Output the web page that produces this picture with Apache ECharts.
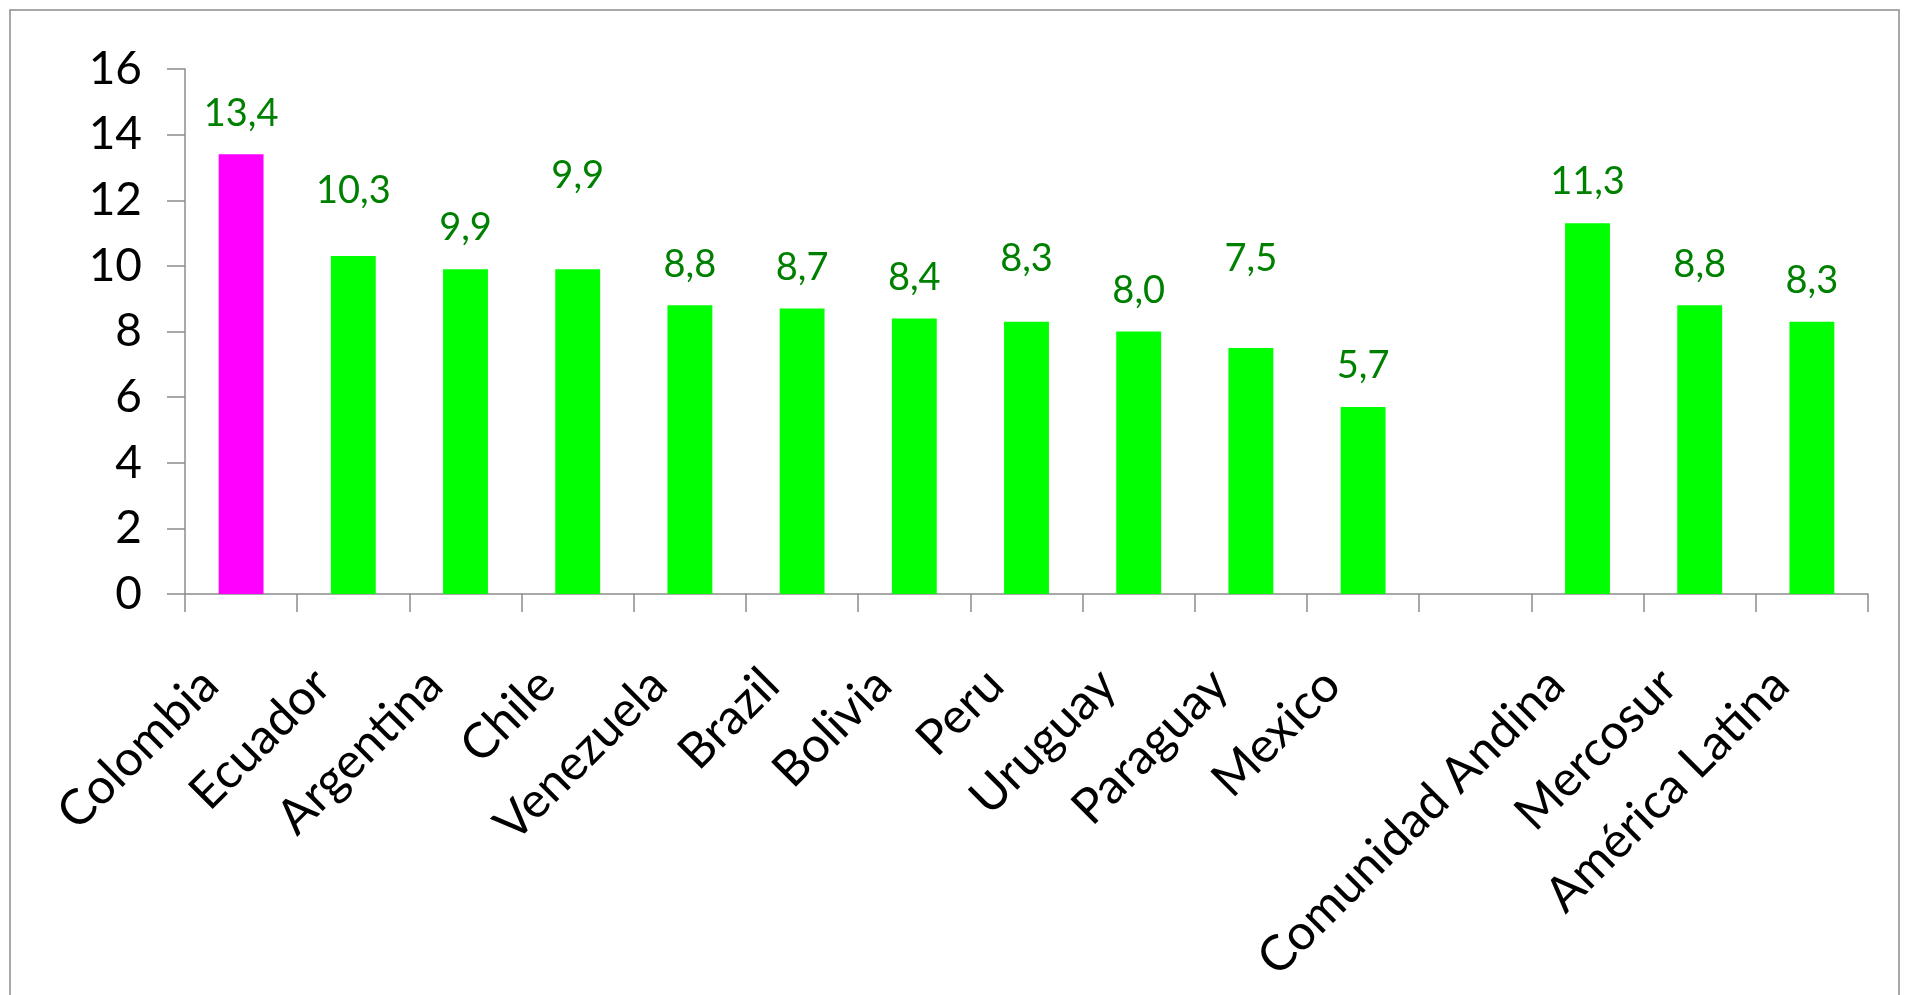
<!DOCTYPE html>
<html>
<head>
<meta charset="utf-8">
<script src="https://cdn.jsdelivr.net/npm/echarts@6/dist/echarts.min.js"></script>
<style>
html,body{margin:0;padding:0;background:#fff;}
#chart{width:1906px;height:995px;}
</style>
</head>
<body>
<div id="chart"></div>
<script>
// Data
var categories = ['Colombia','Ecuador','Argentina','Chile','Venezuela','Brazil','Bolivia','Peru','Uruguay','Paraguay','Mexico','','Comunidad Andina','Mercosur','América Latina'];
var values = [13.4, 10.3, 9.9, 9.9, 8.8, 8.7, 8.4, 8.3, 8.0, 7.5, 5.7, null, 11.3, 8.8, 8.3];
var highlight = ['Colombia'];
var yTicks = [0, 2, 4, 6, 8, 10, 12, 14, 16];

// Styling (label placement, as in the original)
var labelDistBase = 22;
var labelExtra = [0, 24, 0, 52, 0, 0, 0, 22, 0, 48, 0, 0, 0, 0, 0];

var seriesData = values.map(function (v, i) {
  if (v === null) return '-';
  return {
    value: v,
    itemStyle: { color: highlight.indexOf(categories[i]) >= 0 ? '#FF00FF' : '#00FF00' },
    label: { distance: labelDistBase + labelExtra[i] }
  };
});

var chart = echarts.init(document.getElementById('chart'));
chart.setOption({
  animation: false,
  backgroundColor: '#fff',
  textStyle: { fontFamily: 'Lato' },
  graphic: [{
    type: 'rect',
    shape: { x: 10, y: 10, width: 1889, height: 1000 },
    style: { fill: 'none', stroke: '#8c8c8c', lineWidth: 1.5 },
    silent: true
  }],
  grid: { left: 185, right: 38, top: 69, bottom: 401, containLabel: false },
  xAxis: {
    type: 'category',
    data: categories,
    axisLine: { lineStyle: { color: '#8c8c8c', width: 1.5 } },
    axisTick: { show: true, length: 18, lineStyle: { color: '#8c8c8c', width: 1.5 } },
    axisLabel: {
      rotate: 45,
      interval: 0,
      margin: 52,
      padding: [0, 44, 0, 0],
      color: '#000',
      fontFamily: 'Lato',
      fontSize: 49
    }
  },
  yAxis: {
    type: 'value',
    min: yTicks[0],
    max: yTicks[yTicks.length - 1],
    interval: 2,
    splitLine: { show: false },
    axisLine: { show: true, lineStyle: { color: '#8c8c8c', width: 1.5 } },
    axisTick: { show: true, length: 18, lineStyle: { color: '#8c8c8c', width: 1.5 } },
    axisLabel: {
      margin: 43,
      color: '#000',
      fontFamily: 'Lato',
      fontSize: 46,
      formatter: function (v) { return yTicks.indexOf(v) >= 0 ? String(v) : ''; }
    }
  },
  series: [{
    type: 'bar',
    data: seriesData,
    barWidth: '40%',
    label: {
      show: true,
      position: 'top',
      color: '#008000',
      fontFamily: 'Lato',
      fontSize: 38,
      formatter: function (p) { return p.value.toFixed(1).replace('.', ','); }
    }
  }]
});
</script>
</body>
</html>
